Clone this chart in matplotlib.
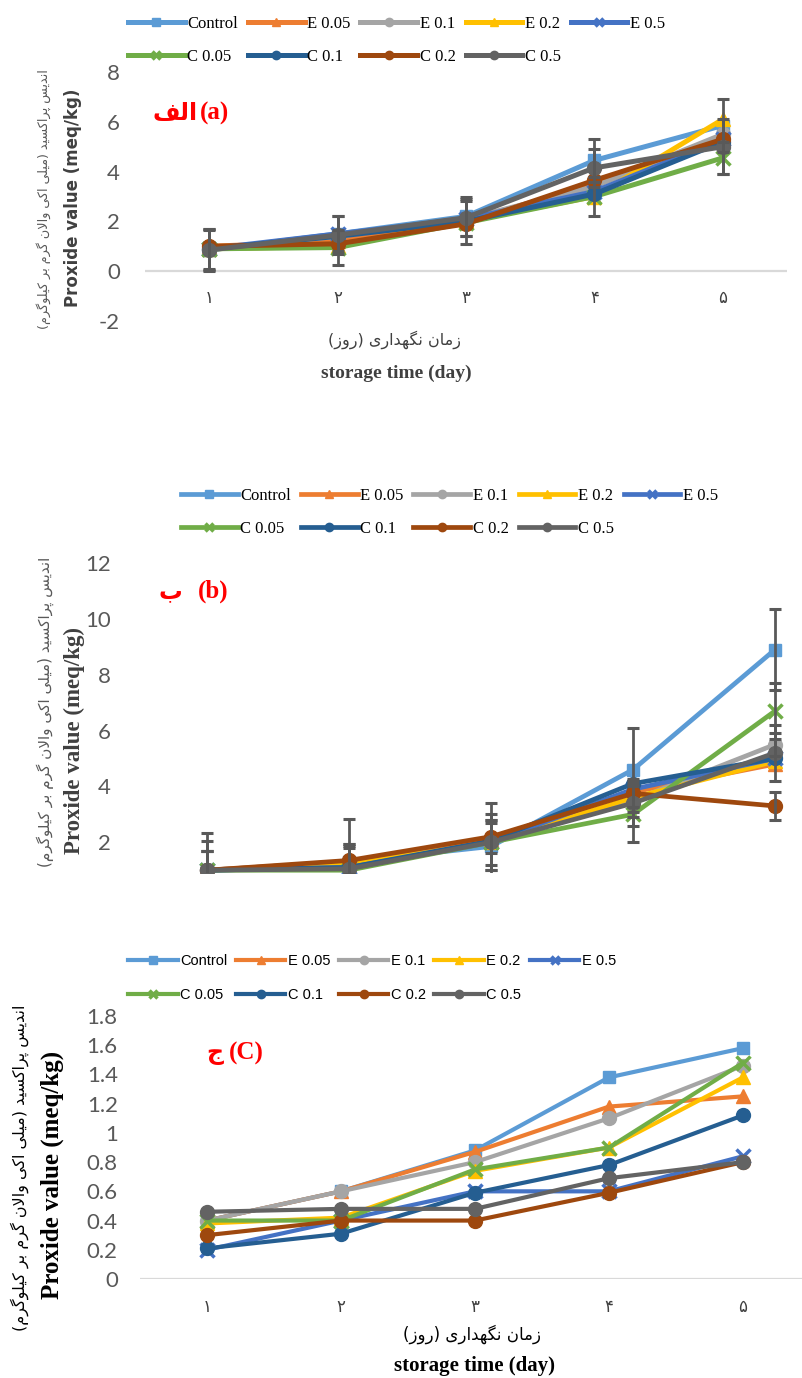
import matplotlib
matplotlib.use('Agg')
import matplotlib.pyplot as plt
import matplotlib.transforms as mtransforms
from matplotlib.font_manager import FontProperties
import numpy as np

plt.rcParams['axes.unicode_minus'] = False

# ---------------- data ----------------
days = [1, 2, 3, 4, 5]
day_labels = ['۱', '۲', '۳', '۴', '۵']
series_names = ['Control', 'E 0.05', 'E 0.1', 'E 0.2', 'E 0.5',
                'C 0.05', 'C 0.1', 'C 0.2', 'C 0.5']
colors = ['#5B9BD5', '#ED7D31', '#A5A5A5', '#FFC000', '#4472C4',
          '#70AD47', '#255E91', '#9E480E', '#636363']
markers = ['s', '^', 'o', '^', 'x', 'x', 'o', 'o', 'o']

# panel (a)
a_control = [0.85, 1.50, 2.20, 4.45, 5.85]
a_e005 = [1.00, 1.20, 2.00, 3.50, 5.30]
a_e01 = [0.90, 1.40, 2.10, 3.40, 5.50]
a_e02 = [0.90, 1.00, 2.00, 3.00, 6.10]
a_e05 = [0.90, 1.50, 2.10, 3.20, 5.30]
a_c005 = [0.90, 0.95, 1.95, 3.00, 4.55]
a_c01 = [0.90, 1.40, 2.00, 3.10, 5.20]
a_c02 = [1.00, 1.10, 1.90, 3.65, 5.30]
a_c05 = [0.85, 1.45, 2.15, 4.15, 5.00]
a_err_control = [0.85, 0.70, 0.80, 0.85, 1.05]
a_err_c005 = [0.80, 0.70, 0.85, 0.80, 0.65]
a_err_c05 = [0.80, 0.75, 0.75, 0.75, 1.10]

# panel (b)
b_control = [1.00, 1.30, 1.85, 4.60, 8.90]
b_e005 = [1.00, 1.30, 2.10, 3.80, 4.80]
b_e01 = [1.00, 1.20, 2.00, 3.50, 5.50]
b_e02 = [1.00, 1.20, 2.00, 3.60, 4.90]
b_e05 = [1.00, 1.10, 2.00, 3.90, 5.00]
b_c005 = [1.00, 1.00, 2.00, 3.00, 6.70]
b_c01 = [1.00, 1.10, 2.05, 4.10, 5.00]
b_c02 = [1.00, 1.35, 2.20, 3.75, 3.30]
b_c05 = [1.00, 1.05, 2.00, 3.40, 5.20]
b_err_control = [1.35, 1.55, 0.85, 1.50, 1.45]
b_err_c005 = [1.05, 0.95, 1.40, 1.00, 1.00]
b_err_e01 = [0.70, 0.60, 1.00, 0.60, 0.40]
b_err_c05 = [0.70, 0.90, 0.80, 0.80, 1.00]
b_err_c02 = [0.70, 0.50, 0.60, 0.50, 0.50]

# panel (c)
c_control = [0.40, 0.60, 0.88, 1.38, 1.58]
c_e005 = [0.40, 0.60, 0.87, 1.18, 1.25]
c_e01 = [0.40, 0.60, 0.80, 1.10, 1.46]
c_e02 = [0.38, 0.42, 0.74, 0.90, 1.38]
c_e05 = [0.20, 0.40, 0.60, 0.60, 0.84]
c_c005 = [0.40, 0.40, 0.75, 0.90, 1.48]
c_c01 = [0.21, 0.31, 0.59, 0.78, 1.12]
c_c02 = [0.30, 0.40, 0.40, 0.59, 0.80]
c_c05 = [0.46, 0.48, 0.48, 0.69, 0.80]

panel_a = [a_control, a_e005, a_e01, a_e02, a_e05, a_c005, a_c01, a_c02, a_c05]
panel_b = [b_control, b_e005, b_e01, b_e02, b_e05, b_c005, b_c01, b_c02, b_c05]
panel_c = [c_control, c_e005, c_e01, c_e02, c_e05, c_c005, c_c01, c_c02, c_c05]
errs_a = {0: a_err_control, 5: a_err_c005, 8: a_err_c05}
errs_b = {0: b_err_control, 5: b_err_c005, 2: b_err_e01, 8: b_err_c05, 7: b_err_c02}

y_label_fa = 'اندیس پراکسید (میلی اکی والان گرم بر کیلوگرم)'
y_label_en = 'Proxide value (meq/kg)'
x_label_fa = 'زمان نگهداری (روز)'
x_label_en = 'storage time (day)'

# ---------------- simple Persian shaping (matplotlib has no RTL shaping) ----------------
AR_FORMS = {
    '\u0627': ('\uFE8D', '\uFE8E', None, None),
    '\u0628': ('\uFE8F', '\uFE90', '\uFE91', '\uFE92'),
    '\u067E': ('\uFB56', '\uFB57', '\uFB58', '\uFB59'),
    '\u062C': ('\uFE9D', '\uFE9E', '\uFE9F', '\uFEA0'),
    '\u062F': ('\uFEA9', '\uFEAA', None, None),
    '\u0631': ('\uFEAD', '\uFEAE', None, None),
    '\u0632': ('\uFEAF', '\uFEB0', None, None),
    '\u0633': ('\uFEB1', '\uFEB2', '\uFEB3', '\uFEB4'),
    '\u0641': ('\uFED1', '\uFED2', '\uFED3', '\uFED4'),
    '\u06A9': ('\uFB8E', '\uFB8F', '\uFB90', '\uFB91'),
    '\u06AF': ('\uFB92', '\uFB93', '\uFB94', '\uFB95'),
    '\u0644': ('\uFEDD', '\uFEDE', '\uFEDF', '\uFEE0'),
    '\u0645': ('\uFEE1', '\uFEE2', '\uFEE3', '\uFEE4'),
    '\u0646': ('\uFEE5', '\uFEE6', '\uFEE7', '\uFEE8'),
    '\u0647': ('\uFEE9', '\uFEEA', '\uFEEB', '\uFEEC'),
    '\u0648': ('\uFEED', '\uFEEE', None, None),
    '\u06CC': ('\uFBFC', '\uFBFD', '\uFBFE', '\uFBFF'),
}


def fa(text):
    chars = list(text)
    n = len(chars)

    def dual(ch):
        return ch in AR_FORMS and AR_FORMS[ch][2] is not None

    out = []
    i = 0
    while i < n:
        ch = chars[i]
        if ch not in AR_FORMS:
            out.append(ch)
            i += 1
            continue
        prev = chars[i - 1] if i > 0 else ''
        jp = dual(prev)
        if ch == '\u0644' and i + 1 < n and chars[i + 1] == '\u0627':
            out.append('\uFEFC' if jp else '\uFEFB')
            i += 2
            continue
        nxt = chars[i + 1] if i + 1 < n else ''
        jn = dual(ch) and nxt in AR_FORMS
        iso, fin, ini, med = AR_FORMS[ch]
        if jp and jn:
            g = med
        elif jp:
            g = fin
        elif jn:
            g = ini
        else:
            g = iso
        out.append(g)
        i += 1
    vis = ''.join(reversed(out))
    return vis.translate(str.maketrans('()', ')('))


# ---------------- figure ----------------
W, H = 802, 1378
fig = plt.figure(figsize=(W / 100, H / 100), dpi=100)


def fx(px):
    return px / W


def fy(py):
    return 1 - py / H


def add_ax(left, top, right, bottom):
    return fig.add_axes([left / W, 1 - bottom / H, (right - left) / W, (bottom - top) / H])


def style_ax(ax):
    for s in ax.spines.values():
        s.set_visible(False)
    ax.tick_params(axis='both', length=0)


def draw_series(ax, data, errs, lw, ms):
    handles = []
    x = np.array(days)
    for k, vals in enumerate(data):
        if k in errs:
            ax.errorbar(x, vals, yerr=errs[k], fmt='none', ecolor='#595959',
                        elinewidth=2, capsize=4.5, capthick=2.2, zorder=4)
        mk = markers[k]
        kw = dict(color=colors[k], lw=lw, marker=mk, ms=ms,
                  markerfacecolor=colors[k], markeredgecolor=colors[k], zorder=3,
                  solid_joinstyle='round')
        if mk == 'x':
            kw['mew'] = 2.5
        if mk == 's':
            kw['ms'] = ms * 0.9
        line, = ax.plot(x, vals, label=series_names[k], **kw)
        handles.append(line)
    return handles


legend_order = [0, 5, 1, 6, 2, 7, 3, 8, 4]

tick_font = 'Lato'
leg_kw = dict(ncol=5, loc='upper left', frameon=False, handlelength=3.4,
              handletextpad=0.15, columnspacing=0.6, borderpad=0,
              borderaxespad=0, markerscale=0.6)

# ---------- panel (a) ----------
axa = add_ax(145, 72, 787, 321)
style_ax(axa)
ha = draw_series(axa, panel_a, errs_a, lw=3.6, ms=10)
axa.axhline(0, color='#D9D9D9', lw=1.6, zorder=1)
axa.set_xlim(0.5, 5.5)
axa.set_ylim(-2, 8)
axa.set_yticks(np.arange(-2, 9, 2))
axa.set_xticks([])
axa.tick_params(axis='y', pad=18, labelsize=16, labelcolor='#595959')
for t in axa.get_yticklabels():
    t.set_family(tick_font)
trans = mtransforms.blended_transform_factory(axa.transData, axa.transAxes)
for d, lab in zip(days, day_labels):
    axa.text(d, 0.092, lab, transform=trans, ha='center', va='center',
             fontsize=12, color='#404040', family='DejaVu Sans')

fig.legend([ha[i] for i in legend_order], [series_names[i] for i in legend_order],
           bbox_to_anchor=(fx(128), fy(16)),
           prop=FontProperties(family='Liberation Serif', size=12),
           labelspacing=1.0, **leg_kw)

fig.text(fx(44), fy(199), fa(y_label_fa), rotation=90, ha='center', va='center',
         fontsize=9.2, color='#595959', family='DejaVu Sans')
fig.text(fx(73), fy(198), y_label_en, rotation=90, ha='center', va='center',
         fontsize=12, color='#404040', family='DejaVu Sans', weight='bold')
fig.text(fx(395), fy(340), fa(x_label_fa), ha='center', va='center',
         fontsize=11.5, color='#404040', family='DejaVu Sans')
fig.text(fx(396), fy(373), x_label_en, ha='center', va='center',
         fontsize=14, color='#404040', family='Liberation Serif', weight='bold')
fig.text(fx(198), fy(113), fa('الف'), ha='right', va='center', fontsize=17,
         color='#FF0000', family='DejaVu Sans', weight='bold')
fig.text(fx(200), fy(113), '(a)', ha='left', va='center', fontsize=18,
         color='#FF0000', family='Liberation Serif', weight='bold')

# ---------- panel (b) ----------
axb = add_ax(136, 563, 846, 873)
style_ax(axb)
hb = draw_series(axb, panel_b, errs_b, lw=3.4, ms=10)
axb.set_xlim(0.5, 5.5)
axb.set_ylim(0.9, 12)
axb.set_yticks([2, 4, 6, 8, 10, 12])
axb.set_xticks([])
axb.tick_params(axis='y', pad=18, labelsize=16, labelcolor='#595959')
for t in axb.get_yticklabels():
    t.set_family(tick_font)

fig.legend([hb[i] for i in legend_order], [series_names[i] for i in legend_order],
           bbox_to_anchor=(fx(181), fy(488)),
           prop=FontProperties(family='Liberation Serif', size=12),
           labelspacing=1.0, **leg_kw)

fig.text(fx(45), fy(712), fa(y_label_fa), rotation=90, ha='center', va='center',
         fontsize=11, color='#595959', family='DejaVu Sans')
fig.text(fx(74), fy(740), y_label_en, rotation=90, ha='center', va='center',
         fontsize=16.5, color='#404040', family='Liberation Serif', weight='bold')
fig.text(fx(182), fy(591), fa('ب'), ha='right', va='center', fontsize=17,
         color='#FF0000', family='DejaVu Sans', weight='bold')
fig.text(fx(198), fy(591), '(b)', ha='left', va='center', fontsize=18,
         color='#FF0000', family='Liberation Serif', weight='bold')

# ---------- panel (c) ----------
axc = add_ax(140, 1016, 810, 1279)
style_ax(axc)
hc = draw_series(axc, panel_c, {}, lw=3.0, ms=10)
axc.axhline(0, color='#D9D9D9', lw=1.6, zorder=1)
axc.set_xlim(0.5, 5.5)
axc.set_ylim(0, 1.8)
axc.set_yticks([0, 0.2, 0.4, 0.6, 0.8, 1.0, 1.2, 1.4, 1.6, 1.8])
axc.set_yticklabels(['0', '0.2', '0.4', '0.6', '0.8', '1', '1.2', '1.4', '1.6', '1.8'])
axc.set_xticks(days)
axc.set_xticklabels(day_labels)
axc.tick_params(axis='y', pad=16, labelsize=16, labelcolor='#595959')
axc.tick_params(axis='x', pad=14, labelsize=12, labelcolor='#404040')
for t in axc.get_yticklabels():
    t.set_family(tick_font)
for t in axc.get_xticklabels():
    t.set_family('DejaVu Sans')

fig.legend([hc[i] for i in legend_order], [series_names[i] for i in legend_order],
           bbox_to_anchor=(fx(128), fy(954)),
           prop=FontProperties(family='Liberation Sans', size=10.5),
           labelspacing=1.4, **leg_kw)

fig.text(fx(20), fy(1168), fa(y_label_fa), rotation=90, ha='center', va='center',
         fontsize=11.5, color='#000000', family='DejaVu Sans')
fig.text(fx(52), fy(1175), y_label_en, rotation=90, ha='center', va='center',
         fontsize=18, color='#000000', family='Liberation Serif', weight='bold')
fig.text(fx(472), fy(1334), fa(x_label_fa), ha='center', va='center',
         fontsize=12, color='#000000', family='DejaVu Sans')
fig.text(fx(475), fy(1366), x_label_en, ha='center', va='center',
         fontsize=15, color='#000000', family='Liberation Serif', weight='bold')
fig.text(fx(223), fy(1053), fa('ج'), ha='right', va='center', fontsize=17,
         color='#FF0000', family='DejaVu Sans', weight='bold')
fig.text(fx(229), fy(1053), '(C)', ha='left', va='center', fontsize=18,
         color='#FF0000', family='Liberation Serif', weight='bold')

fig.savefig('out.png', dpi=100)
